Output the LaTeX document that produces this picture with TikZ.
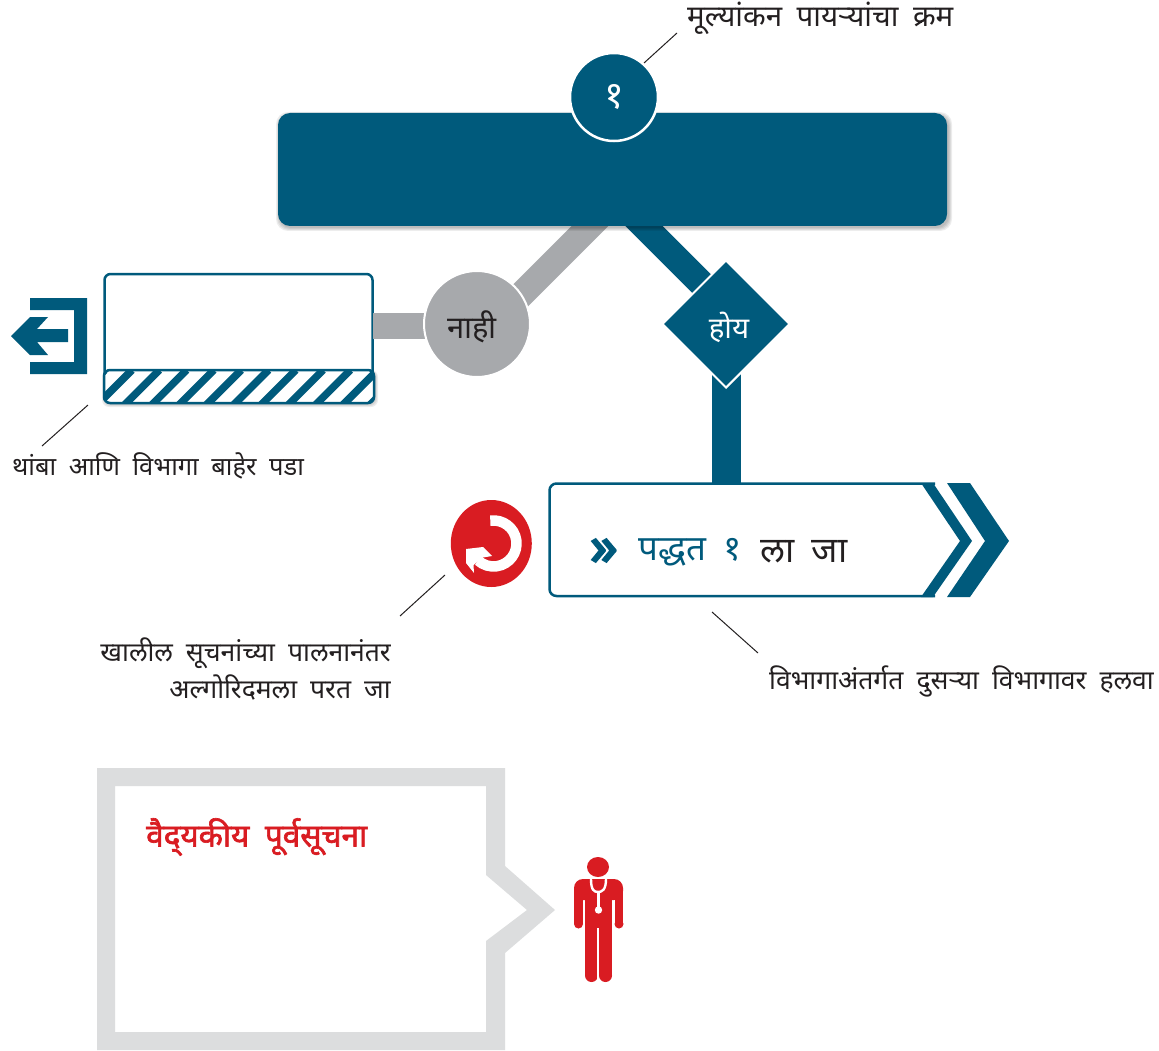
\documentclass[tikz,border=0pt]{standalone}
\usepackage{fontspec}
\usetikzlibrary{shapes.geometric}
\newfontfamily\dev[Script=Devanagari,Language=Marathi,WordSpace=1.9]{Noto Sans}
\newfontfamily\devbold[Script=Devanagari,Language=Marathi,WordSpace=1.9,FakeBold=2]{Noto Sans}
\newfontfamily\markfont[FakeBold=4]{Noto Sans}
\definecolor{deepblue}{HTML}{005A7C}
\definecolor{midgray}{HTML}{A7A9AC}
\definecolor{palegray}{HTML}{DCDDDE}
\definecolor{alertred}{HTML}{D91C22}
\definecolor{inkdark}{HTML}{231F20}
\tikzset{
  label text/.style={text=inkdark,inner sep=0pt},
  leader/.style={draw=inkdark,line width=1pt},
  bluelink/.style={draw=deepblue,line width=26.5pt},
  graylink/.style={draw=midgray,line width=26pt},
}
\begin{document}
\begin{tikzpicture}[x=1pt,y=-1pt]
\useasboundingbox (0,0) rectangle (1159,1051);
\fill[white] (0,0) rectangle (1159,1051);

% main box and branches
\coordinate (graystart) at (616,200);
\coordinate (graybend) at (492,324);
\coordinate (bluestart) at (618,200);
\coordinate (bluebend) at (728,310);
\draw[graylink] (graystart) -- (graybend);
\draw[bluelink] (bluestart) -- (bluebend);
\foreach \s in {1,2,3,4} \fill[black,opacity=.07,rounded corners=12pt] ({278-\s+2},{113-\s+3}) rectangle ({947+\s+1},{226+\s+1});
\node[fill=deepblue,rounded corners=12pt,minimum width=669pt,minimum height=113pt,inner sep=0pt] (mainbox) at (612.5,169.5) {};

\node[circle,fill=deepblue,draw=white,line width=2.5pt,minimum size=88pt,inner sep=0pt,text=white,font=\dev\fontsize{38}{38}\selectfont] (stepnode) at (614,97) {१};
\node[label text,anchor=west,font=\dev\fontsize{29.5}{35}\selectfont] (orderlabel) at (687,18) {मूल्यांकन पायऱ्यांचा क्रम};
\coordinate (orderleader) at (677,33);
\coordinate (stepleader) at (644,63);
\draw[leader] (orderleader) -- (stepleader);

% exit box
\node[draw=deepblue,line width=2.5pt,fill=white,rounded corners=6pt,minimum width=268pt,minimum height=126pt,inner sep=0pt] (exitbox) at (238.5,337) {};
\foreach \s in {1,2,3} \fill[black,opacity=.07,rounded corners=7pt] ({104-\s+1},{370}) rectangle ({374+\s+1},{403+\s+1});
\node[fill=white,rounded corners=6pt,minimum width=270pt,minimum height=33pt,inner sep=0pt] (stripebar) at (239,386.5) {};
\begin{scope}
\clip[rounded corners=6pt] (104,370) rectangle (374,403);
\foreach \k in {-1,...,11} \draw[deepblue,line width=7.5pt] ({96+27.3*\k},406) -- ({96+27.3*\k+36},370);
\end{scope}
\draw[deepblue,line width=2.5pt,rounded corners=6pt] (104,370) rectangle (374,403);

\coordinate (nolinkend) at (373,326);
\coordinate (nolinkstart) at (430,326);
\draw[draw=midgray,line width=26pt] (nolinkstart) -- (nolinkend);
\node[circle,fill=midgray,draw=white,line width=2pt,minimum size=106pt,inner sep=0pt,text=inkdark,font=\dev\fontsize{31}{31}\selectfont,text height=28pt,text depth=0pt] (nonode) at (477,324) {\hspace*{-10pt}नाही};

% exit icon
\fill[deepblue] (30,298) -- (87,298) -- (87,374) -- (30,374) -- (30,362) -- (74,362) -- (74,310) -- (30,310) -- cycle;
\fill[deepblue] (11,336) -- (30,317) -- (48,317) -- (37,329) -- (68,329) -- (68,342) -- (37,342) -- (48,355) -- (30,355) -- cycle;

\node[label text,anchor=west,font=\dev\fontsize{25.5}{35}\selectfont] (exitlabel) at (12,466) {थांबा आणि विभागा बाहेर पडा};
\coordinate (exitleadera) at (88,405);
\coordinate (exitleaderb) at (42,446);
\draw[leader] (exitleadera) -- (exitleaderb);

% yes branch
\coordinate (gotolink) at (726.5,483);
\coordinate (yeslinkstart) at (726.5,370);
\draw[draw=deepblue,line width=29pt] (yeslinkstart) -- (gotolink);
\node[diamond,aspect=1,fill=deepblue,draw=white,line width=2pt,minimum width=128pt,minimum height=128pt,inner sep=0pt,text=white,font=\dev\fontsize{29.5}{30}\selectfont,text height=28pt,text depth=0pt] (yesnode) at (726,324) {\hspace*{6pt}होय};

% goto box
\node[minimum width=386pt,minimum height=113pt,inner sep=0pt] (gotobox) at (742,540) {};
\draw[deepblue,line width=2.5pt,rounded corners=7pt] (935,483.5) -- (549.5,483.5) -- (549.5,596) -- (935,596);
\fill[deepblue] (921,483) -- (933,483) -- (972,541) -- (933,597) -- (921,597) -- (960,541) -- cycle;
\fill[deepblue] (947,483) -- (970,483) -- (1009,541) -- (970,597) -- (947,597) -- (985,541) -- cycle;
\node[inner sep=0pt,anchor=west,font=\markfont\fontsize{54}{54}\selectfont,text=deepblue] (gotomark) at (590,552) {»};
\node[inner sep=0pt,anchor=west,font=\dev\fontsize{35}{35}\selectfont,text=deepblue] (gototext) at (638,552) {पद्धत १};
\node[inner sep=0pt,anchor=west,font=\dev\fontsize{35.5}{35}\selectfont,text=inkdark] (gototextb) at (760,552) {ला जा};
\node[label text,anchor=east,font=\dev\fontsize{26.5}{35}\selectfont] (movelabel) at (1154,681) {विभागाअंतर्गत दुसऱ्या विभागावर हलवा};
\coordinate (moveleadera) at (712,612);
\coordinate (moveleaderb) at (758,653);
\draw[leader] (moveleadera) -- (moveleaderb);

% return icon
\node[ellipse,fill=alertred,minimum width=81pt,minimum height=87pt,inner sep=0pt] (returnicon) at (491.3,543.5) {};
\draw[white,line width=10.5pt] (490.3,520.7) arc[start angle=-98,end angle=132,radius=23];
\fill[white] (466,549) -- (483,547) -- (492,556) -- (483,557.5) -- (473.5,565) -- (474,573) -- (466,563) -- cycle;
\coordinate (returnleadera) at (445,575);
\coordinate (returnleaderb) at (400,616);
\draw[leader] (returnleadera) -- (returnleaderb);
\node[label text,anchor=east,font=\dev\fontsize{26.5}{35}\selectfont] (returna) at (391,653) {खालील सूचनांच्या पालनानंतर};
\node[label text,anchor=east,font=\dev\fontsize{26.5}{35}\selectfont] (returnb) at (391,687) {अल्गोरिदमला परत जा};

% callout
\fill[palegray,even odd rule] (97,768) -- (505,768) -- (505,866) -- (555,910) -- (505,953) -- (505,1050) -- (97,1050) -- cycle
  (115,786) -- (486,786) -- (486,875) -- (527,910) -- (486,941) -- (486,1032) -- (115,1032) -- cycle;
\node[inner sep=0pt,anchor=west,font=\devbold\fontsize{31.5}{31}\selectfont,text=alertred] (warntitle) at (146,837) {वैद्‌यकीय पूर्वसूचना};

% doctor
\fill[alertred] (598,867) ellipse[x radius=11,y radius=10];
\fill[alertred,rounded corners=9pt] (574,900) -- (574,879) -- (623,879) -- (623,900) -- cycle;
\fill[alertred] (574,890) rectangle (583,924);
\fill[alertred] (615,890) rectangle (623,924);
\fill[alertred] (578.5,924) circle[radius=4.5];
\fill[alertred] (619,924) circle[radius=4.5];
\fill[alertred] (585,890) rectangle (612,976);
\fill[alertred] (591.5,975.5) circle[radius=6.5];
\fill[alertred] (605.5,975.5) circle[radius=6.5];
\fill[white] (597.4,928) rectangle (599.4,984);
\draw[white,line width=2.4pt] (591,879) .. controls (591,890) and (594,892) .. (598,892) .. controls (602,892) and (606,890) .. (606,879);
\draw[white,line width=2.4pt] (598.5,892) -- (598.5,910);
\fill[white] (598.5,910) circle[radius=3.7];
\end{tikzpicture}
\end{document}
